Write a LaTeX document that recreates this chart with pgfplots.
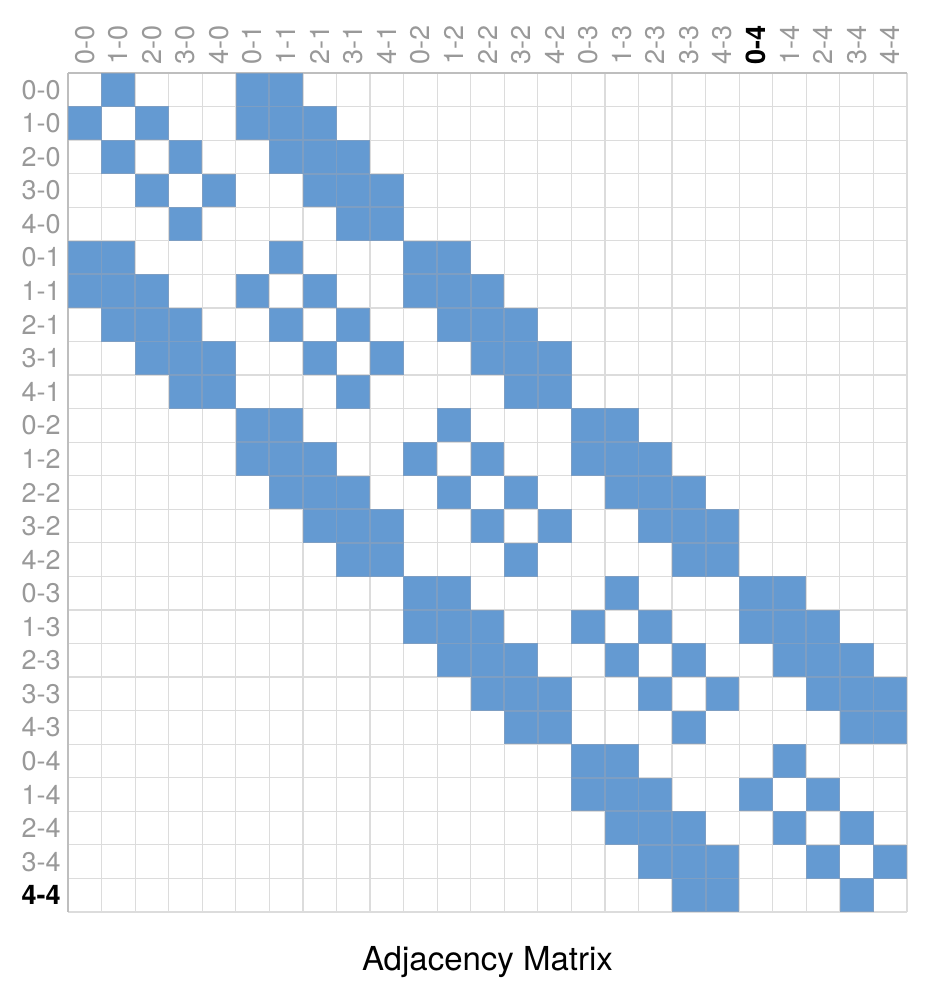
\documentclass[border=0pt]{standalone}
\usepackage{fontspec}
\setmainfont{TeX Gyre Heros}
\usepackage{pgfplots}
\pgfplotsset{compat=1.18}
\definecolor{cellblue}{RGB}{100,154,210}
\definecolor{celledge}{RGB}{125,158,195}
\definecolor{lblgray}{RGB}{153,153,153}
\definecolor{edgegray}{RGB}{190,190,190}
\definecolor{gridgray}{RGB}{220,220,220}
\begin{document}
\begin{tikzpicture}
\begin{axis}[
  at={(0,0)}, anchor=north west,
  x=16.78pt, y=16.78pt,
  y dir=reverse,
  xmin=-0.5, xmax=24.5, ymin=-0.5, ymax=24.5,
  axis x line*=top, axis y line*=left,
  axis line style={draw=edgegray, line width=0.9pt, -},
  xtick={0,...,24}, ytick={0,...,24},
  xticklabels={0-0,1-0,2-0,3-0,4-0,0-1,1-1,2-1,3-1,4-1,0-2,1-2,2-2,3-2,4-2,0-3,1-3,2-3,3-3,4-3,{\textbf{\color{black}0-4}},1-4,2-4,3-4,4-4},
  yticklabels={0-0,1-0,2-0,3-0,4-0,0-1,1-1,2-1,3-1,4-1,0-2,1-2,2-2,3-2,4-2,0-3,1-3,2-3,3-3,4-3,0-4,1-4,2-4,3-4,{\textbf{\color{black}4-4}}},
  major tick length=0pt, minor tick length=0pt,
  minor xtick={-0.5,0.5,1.5,2.5,3.5,4.5,5.5,6.5,7.5,8.5,9.5,10.5,11.5,12.5,13.5,14.5,15.5,16.5,17.5,18.5,19.5,20.5,21.5,22.5,23.5,24.5},
  minor ytick={-0.5,0.5,1.5,2.5,3.5,4.5,5.5,6.5,7.5,8.5,9.5,10.5,11.5,12.5,13.5,14.5,15.5,16.5,17.5,18.5,19.5,20.5,21.5,22.5,23.5,24.5},
  minor grid style={draw=gridgray, line width=0.6pt},
  xminorgrids=true, yminorgrids=true,
  xmajorgrids=false, ymajorgrids=false,
  tick label style={font=\fontsize{13.5}{16}\selectfont, text=lblgray, inner sep=0pt},
  xticklabel style={rotate=90, anchor=west},
  yticklabel style={anchor=east},
  xticklabel shift=4pt, yticklabel shift=3.5pt,
  title={Adjacency Matrix},
  title style={at={(0.5,0)}, anchor=base, yshift=-35pt, font=\fontsize{16.5}{20}\selectfont, text=black},
  clip=false,
]
\addplot[only marks, mark=square*, mark size=8.2pt, color=cellblue,
  mark options={line width=0.5pt, draw=celledge, fill=cellblue}] coordinates {
(1,0) (5,0) (6,0)
(0,1) (2,1) (5,1) (6,1) (7,1)
(1,2) (3,2) (6,2) (7,2) (8,2)
(2,3) (4,3) (7,3) (8,3) (9,3)
(3,4) (8,4) (9,4)
(0,5) (1,5) (6,5) (10,5) (11,5)
(0,6) (1,6) (2,6) (5,6) (7,6) (10,6) (11,6) (12,6)
(1,7) (2,7) (3,7) (6,7) (8,7) (11,7) (12,7) (13,7)
(2,8) (3,8) (4,8) (7,8) (9,8) (12,8) (13,8) (14,8)
(3,9) (4,9) (8,9) (13,9) (14,9)
(5,10) (6,10) (11,10) (15,10) (16,10)
(5,11) (6,11) (7,11) (10,11) (12,11) (15,11) (16,11) (17,11)
(6,12) (7,12) (8,12) (11,12) (13,12) (16,12) (17,12) (18,12)
(7,13) (8,13) (9,13) (12,13) (14,13) (17,13) (18,13) (19,13)
(8,14) (9,14) (13,14) (18,14) (19,14)
(10,15) (11,15) (16,15) (20,15) (21,15)
(10,16) (11,16) (12,16) (15,16) (17,16) (20,16) (21,16) (22,16)
(11,17) (12,17) (13,17) (16,17) (18,17) (21,17) (22,17) (23,17)
(12,18) (13,18) (14,18) (17,18) (19,18) (22,18) (23,18) (24,18)
(13,19) (14,19) (18,19) (23,19) (24,19)
(15,20) (16,20) (21,20)
(15,21) (16,21) (17,21) (20,21) (22,21)
(16,22) (17,22) (18,22) (21,22) (23,22)
(17,23) (18,23) (19,23) (22,23) (24,23)
(18,24) (19,24) (23,24)
};
\end{axis}
\pgfresetboundingbox
\path[use as bounding box] (-34pt,36.5pt) rectangle (433pt,-458.5pt);
\end{tikzpicture}
\end{document}
